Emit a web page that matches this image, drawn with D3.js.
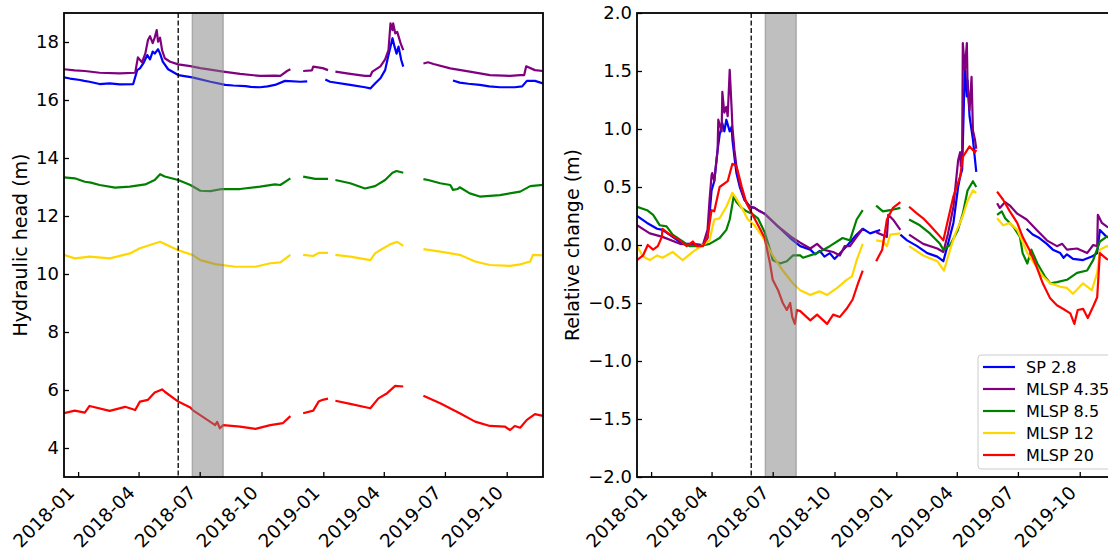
<!DOCTYPE html>
<html><head><meta charset="utf-8">
<script src="https://cdn.jsdelivr.net/npm/d3@7"></script>
<style>
body{margin:0;background:#fff}
svg{display:block}
</style>
</head><body>
<svg id="chart" width="1108" height="550"></svg>
<script>
// ---------- data ----------
const seriesNames  = ["SP 2.8", "MLSP 4.35", "MLSP 8.5", "MLSP 12", "MLSP 20"];
const seriesColors = ["#0000ff", "#800080", "#008000", "#ffd700", "#ff0000"];
const xTickLabels  = ["2018-01","2018-04","2018-07","2018-10","2019-01","2019-04","2019-07","2019-10"];
const headYTicks   = [4, 6, 8, 10, 12, 14, 16, 18];
const relYTicks    = [-2.0, -1.5, -1.0, -0.5, 0.0, 0.5, 1.0, 1.5, 2.0];
const dateRange    = ["2017-12-11", "2019-11-24"];
const headRange    = [3, 19];
const relRange     = [-2, 2];
const markerDate   = "2018-05-30";
const bandDates    = ["2018-06-20", "2018-08-05"];

// Hydraulic head (m), null = data gap
const headSP28 = [["2017-12-11",16.78],["2017-12-20",16.74],["2018-01-04",16.69],["2018-01-10",16.66],["2018-01-18",16.63],["2018-02-02",16.55],["2018-02-17",16.57],["2018-03-04",16.54],["2018-03-24",16.55],["2018-03-30",17.03],["2018-04-03",17.09],["2018-04-08",17.26],["2018-04-14",17.55],["2018-04-18",17.40],["2018-04-22",17.67],["2018-04-25",17.60],["2018-04-30",17.75],["2018-05-03",17.60],["2018-05-07",17.32],["2018-05-15",17.06],["2018-05-30",16.86],["2018-06-20",16.78],["2018-07-17",16.63],["2018-08-08",16.52],["2018-08-20",16.50],["2018-09-07",16.48],["2018-09-15",16.45],["2018-09-29",16.44],["2018-10-10",16.47],["2018-10-21",16.52],["2018-11-05",16.66],["2018-11-28",16.63],["2018-12-08",16.64],null,
  ["2019-01-04",16.71],["2019-01-11",16.63],["2019-02-10",16.52],["2019-03-04",16.44],["2019-03-12",16.40],["2019-03-19",16.57],["2019-03-27",16.75],["2019-04-03",17.03],["2019-04-08",17.55],["2019-04-11",17.84],["2019-04-14",18.13],["2019-04-17",17.84],["2019-04-20",17.60],["2019-04-23",17.84],["2019-04-27",17.38],["2019-04-30",17.15],null,
  ["2019-07-13",16.67],["2019-07-23",16.60],["2019-08-05",16.56],["2019-08-22",16.52],["2019-09-05",16.47],["2019-09-21",16.44],["2019-10-13",16.44],["2019-10-24",16.47],["2019-10-31",16.66],["2019-11-12",16.66],["2019-11-24",16.57]];
const headMLSP435 = [["2017-12-11",17.06],["2017-12-27",17.02],["2018-01-11",17.00],["2018-02-02",16.94],["2018-03-04",16.92],["2018-03-27",16.94],["2018-03-31",17.47],["2018-04-06",17.30],["2018-04-11",17.60],["2018-04-15",18.07],["2018-04-18",18.20],["2018-04-22",17.96],["2018-04-25",18.15],["2018-04-28",18.41],["2018-04-30",18.01],["2018-05-03",18.15],["2018-05-06",17.72],["2018-05-10",17.44],["2018-05-18",17.32],["2018-05-30",17.23],["2018-06-17",17.17],["2018-07-02",17.10],["2018-08-05",16.98],["2018-08-30",16.90],["2018-09-29",16.83],["2018-10-21",16.84],["2018-10-29",16.83],["2018-11-08",17.00],["2018-11-13",17.06],null,
  ["2018-12-02",17.00],["2018-12-15",17.02],["2018-12-17",17.15],["2018-12-31",17.10],["2019-01-08",17.03],null,
  ["2019-01-19",16.98],["2019-02-10",16.90],["2019-03-04",16.83],["2019-03-12",16.83],["2019-03-15",16.98],["2019-03-27",17.16],["2019-04-03",17.40],["2019-04-08",17.72],["2019-04-11",18.64],["2019-04-14",18.41],["2019-04-15",18.64],["2019-04-18",18.30],["2019-04-21",18.35],["2019-04-26",17.96],["2019-04-30",17.72],null,
  ["2019-05-30",17.26],["2019-06-06",17.30],["2019-06-14",17.24],["2019-07-09",17.09],["2019-08-07",16.98],["2019-09-06",16.86],["2019-10-06",16.83],["2019-10-21",16.86],["2019-10-27",16.86],["2019-10-30",17.16],["2019-11-12",17.03],["2019-11-24",17.00]];
const headMLSP85 = [["2017-12-11",13.33],["2017-12-27",13.30],["2018-01-11",13.18],["2018-01-20",13.15],["2018-02-02",13.07],["2018-02-25",12.98],["2018-03-19",13.01],["2018-04-11",13.09],["2018-04-25",13.24],["2018-05-03",13.44],["2018-05-10",13.36],["2018-05-30",13.24],["2018-06-17",13.07],["2018-07-02",12.87],["2018-07-17",12.86],["2018-08-03",12.93],["2018-08-30",12.93],["2018-09-29",13.01],["2018-10-21",13.09],["2018-10-29",13.07],["2018-11-13",13.30],null,
  ["2018-12-02",13.36],["2018-12-20",13.28],["2019-01-08",13.28],null,
  ["2019-01-19",13.24],["2019-02-10",13.13],["2019-03-04",12.95],["2019-03-19",13.03],["2019-04-03",13.24],["2019-04-14",13.49],["2019-04-20",13.55],["2019-04-30",13.49],null,
  ["2019-05-30",13.27],["2019-06-06",13.24],["2019-06-24",13.13],["2019-07-09",13.07],["2019-07-13",12.90],["2019-07-20",12.93],["2019-07-23",12.99],["2019-08-07",12.78],["2019-08-22",12.67],["2019-09-21",12.72],["2019-10-21",12.84],["2019-11-05",13.03],["2019-11-24",13.07]];
const headMLSP12 = [["2017-12-11",10.66],["2017-12-27",10.54],["2018-01-18",10.60],["2018-02-17",10.54],["2018-03-19",10.71],["2018-04-03",10.89],["2018-05-03",11.11],["2018-05-30",10.82],["2018-06-20",10.66],["2018-07-02",10.48],["2018-07-24",10.34],["2018-08-23",10.25],["2018-09-22",10.25],["2018-10-14",10.37],["2018-10-29",10.40],["2018-11-13",10.66],null,
  ["2018-12-02",10.66],["2018-12-17",10.62],["2018-12-25",10.73],["2019-01-08",10.73],null,
  ["2019-01-19",10.66],["2019-02-10",10.60],["2019-03-12",10.48],["2019-03-19",10.71],["2019-03-27",10.83],["2019-04-11",11.03],["2019-04-21",11.11],["2019-04-30",10.97],null,
  ["2019-05-30",10.86],["2019-06-24",10.77],["2019-07-23",10.66],["2019-08-15",10.43],["2019-09-06",10.31],["2019-10-06",10.28],["2019-10-21",10.33],["2019-11-05",10.43],["2019-11-09",10.66],["2019-11-24",10.64]];
const headMLSP20 = [["2017-12-11",5.20],["2017-12-27",5.29],["2018-01-11",5.22],["2018-01-18",5.45],["2018-02-17",5.28],["2018-03-12",5.42],["2018-03-27",5.31],["2018-04-03",5.60],["2018-04-15",5.66],["2018-04-25",5.91],["2018-05-06",6.02],["2018-05-10",5.94],["2018-05-30",5.60],["2018-06-17",5.40],["2018-06-21",5.30],["2018-07-09",5.02],["2018-07-24",4.79],["2018-07-27",4.90],["2018-07-31",4.68],["2018-08-05",4.79],["2018-08-30",4.74],["2018-09-22",4.66],["2018-10-14",4.79],["2018-11-02",4.86],["2018-11-13",5.10],null,
  ["2018-12-02",5.20],["2018-12-17",5.29],["2018-12-25",5.60],["2018-12-31",5.66],["2019-01-08",5.70],null,
  ["2019-01-19",5.63],["2019-02-10",5.52],["2019-03-12",5.37],["2019-03-24",5.71],["2019-04-06",5.89],["2019-04-18",6.14],["2019-04-30",6.12],null,
  ["2019-05-30",5.80],["2019-06-24",5.54],["2019-07-23",5.20],["2019-08-15",4.91],["2019-09-06",4.76],["2019-09-28",4.74],["2019-10-06",4.62],["2019-10-13",4.76],["2019-10-21",4.70],["2019-10-31",4.97],["2019-11-12",5.17],["2019-11-24",5.11]];

// Relative change (m)
const relSP28 = [["2017-12-11",0.25],["2017-12-26",0.19],["2018-01-10",0.14],["2018-01-18",0.13],["2018-02-02",0.07],["2018-02-17",0.01],["2018-03-04",0.01],["2018-03-19",0.00],["2018-03-26",0.06],["2018-04-01",0.47],["2018-04-05",0.55],["2018-04-10",0.82],["2018-04-13",0.95],["2018-04-17",1.05],["2018-04-20",0.98],["2018-04-23",1.08],["2018-04-28",0.98],["2018-05-01",1.02],["2018-05-02",0.91],["2018-05-05",0.76],["2018-05-08",0.62],["2018-05-13",0.50],["2018-05-20",0.39],["2018-05-28",0.33],["2018-06-04",0.32],["2018-06-12",0.29],["2018-06-19",0.27],["2018-07-07",0.17],["2018-07-27",0.06],["2018-08-11",-0.01],["2018-08-26",-0.04],["2018-09-02",-0.08],["2018-09-09",-0.05],["2018-09-16",-0.10],["2018-09-24",-0.07],["2018-10-01",-0.12],["2018-10-06",-0.09],["2018-10-19",-0.01],["2018-11-03",0.09],["2018-11-12",0.14],["2018-11-23",0.10],["2018-12-08",0.13],null,
  ["2019-01-07",0.09],["2019-01-17",0.04],["2019-02-01",-0.01],["2019-02-16",-0.07],["2019-03-03",-0.10],["2019-03-12",-0.14],["2019-03-18",-0.01],["2019-03-27",0.19],["2019-04-03",0.50],["2019-04-06",0.59],["2019-04-09",0.65],["2019-04-13",1.54],["2019-04-16",1.28],["2019-04-17",1.42],["2019-04-20",1.11],["2019-04-23",0.99],["2019-04-25",0.91],["2019-04-30",0.63],null,
  ["2019-07-14",0.14],["2019-07-23",0.09],["2019-08-02",0.06],["2019-08-13",0.01],["2019-08-22",-0.04],["2019-09-02",-0.07],["2019-09-07",-0.11],["2019-09-12",-0.08],["2019-09-21",-0.12],["2019-10-06",-0.13],["2019-10-19",-0.10],["2019-10-27",-0.07],["2019-10-31",0.13],["2019-11-10",0.07],["2019-11-24",0.05]];
const relMLSP435 = [["2017-12-11",0.17],["2017-12-30",0.10],["2018-01-18",0.07],["2018-02-13",0.01],["2018-03-04",0.00],["2018-03-19",0.00],["2018-03-26",0.13],["2018-03-29",0.39],["2018-04-01",0.60],["2018-04-02",0.62],["2018-04-05",0.55],["2018-04-10",0.82],["2018-04-11",1.08],["2018-04-16",0.98],["2018-04-17",1.32],["2018-04-20",1.14],["2018-04-23",1.19],["2018-04-25",1.11],["2018-04-28",1.51],["2018-05-01",1.16],["2018-05-02",1.02],["2018-05-05",0.82],["2018-05-08",0.68],["2018-05-13",0.52],["2018-05-20",0.39],["2018-05-28",0.33],["2018-06-04",0.32],["2018-06-12",0.29],["2018-06-19",0.27],["2018-07-07",0.17],["2018-07-31",0.06],["2018-08-11",0.02],["2018-08-26",-0.03],["2018-09-05",0.01],["2018-09-14",-0.04],["2018-09-29",-0.06],["2018-10-09",-0.09],["2018-10-16",-0.01],["2018-10-24",-0.01],["2018-11-03",0.07],["2018-11-12",0.14],null,
  ["2018-12-02",0.11],["2018-12-18",0.07],["2018-12-20",0.26],["2018-12-27",0.22],["2019-01-07",0.13],null,
  ["2019-01-20",0.09],["2019-02-10",0.01],["2019-03-03",-0.03],["2019-03-12",-0.06],["2019-03-19",0.10],["2019-03-27",0.33],["2019-04-03",0.73],["2019-04-06",0.80],["2019-04-07",0.68],["2019-04-09",0.82],["2019-04-10",1.74],["2019-04-13",1.51],["2019-04-16",1.74],["2019-04-17",1.39],["2019-04-20",1.16],["2019-04-23",1.45],["2019-04-25",0.99],["2019-04-28",0.91],["2019-04-30",0.83],null,
  ["2019-05-31",0.36],["2019-06-04",0.32],["2019-06-12",0.37],["2019-06-19",0.34],["2019-06-30",0.27],["2019-07-14",0.22],["2019-07-29",0.13],["2019-08-13",0.04],["2019-08-28",-0.01],["2019-09-05",0.01],["2019-09-12",-0.04],["2019-09-27",-0.03],["2019-10-12",-0.07],["2019-10-21",0.00],["2019-10-27",-0.01],["2019-10-28",0.26],["2019-11-03",0.19],["2019-11-10",0.16],["2019-11-24",0.12]];
const relMLSP85 = [["2017-12-11",0.33],["2017-12-26",0.30],["2018-01-04",0.26],["2018-01-14",0.17],["2018-01-24",0.16],["2018-02-02",0.09],["2018-02-17",0.03],["2018-02-27",-0.01],["2018-03-14",-0.01],["2018-03-29",0.01],["2018-04-13",0.06],["2018-04-23",0.13],["2018-04-28",0.22],["2018-05-04",0.42],["2018-05-08",0.37],["2018-05-16",0.32],["2018-05-23",0.29],["2018-05-31",0.27],["2018-06-09",0.23],["2018-06-19",0.11],["2018-06-27",-0.04],["2018-07-01",-0.13],["2018-07-12",-0.16],["2018-07-22",-0.14],["2018-07-31",-0.09],["2018-08-11",-0.09],["2018-08-15",-0.11],["2018-09-05",-0.07],["2018-09-24",-0.01],["2018-10-13",0.06],["2018-10-24",0.04],["2018-11-03",0.22],["2018-11-12",0.30],null,
  ["2018-12-02",0.34],["2018-12-12",0.29],["2018-12-23",0.30],["2019-01-07",0.32],null,
  ["2019-01-20",0.22],["2019-02-05",0.17],["2019-02-20",0.10],["2019-03-07",0.01],["2019-03-12",-0.04],["2019-03-22",0.00],["2019-04-02",0.12],["2019-04-10",0.27],["2019-04-17",0.47],["2019-04-25",0.55],["2019-04-30",0.50],null,
  ["2019-05-31",0.26],["2019-06-07",0.29],["2019-06-12",0.23],["2019-06-24",0.16],["2019-07-04",0.07],["2019-07-08",-0.07],["2019-07-15",-0.16],["2019-07-21",-0.04],["2019-07-30",-0.16],["2019-08-10",-0.27],["2019-08-18",-0.33],["2019-08-28",-0.32],["2019-09-12",-0.30],["2019-09-27",-0.24],["2019-10-12",-0.22],["2019-10-21",-0.13],["2019-10-31",0.03],["2019-11-10",0.07],["2019-11-24",0.09]];
const relMLSP12 = [["2017-12-11",-0.01],["2017-12-20",-0.10],["2017-12-30",-0.13],["2018-01-10",-0.09],["2018-01-18",-0.11],["2018-02-02",-0.06],["2018-02-17",-0.13],["2018-03-04",-0.06],["2018-03-19",0.00],["2018-03-29",0.04],["2018-04-05",0.22],["2018-04-13",0.23],["2018-04-23",0.33],["2018-05-02",0.45],["2018-05-08",0.40],["2018-05-16",0.32],["2018-05-25",0.22],["2018-06-04",0.17],["2018-06-16",0.07],["2018-07-01",-0.09],["2018-07-16",-0.22],["2018-07-31",-0.33],["2018-08-11",-0.39],["2018-08-26",-0.43],["2018-09-09",-0.40],["2018-09-20",-0.43],["2018-10-05",-0.37],["2018-10-19",-0.30],["2018-10-27",-0.27],["2018-11-03",-0.13],["2018-11-12",0.01],null,
  ["2018-12-02",0.04],["2018-12-12",0.03],["2018-12-18",-0.01],["2018-12-23",0.09],["2019-01-07",0.10],null,
  ["2019-01-20",-0.01],["2019-02-10",-0.09],["2019-03-03",-0.14],["2019-03-13",-0.22],["2019-03-22",-0.04],["2019-03-30",0.10],["2019-04-10",0.25],["2019-04-17",0.38],["2019-04-25",0.47],["2019-04-30",0.45],null,
  ["2019-05-31",0.23],["2019-06-09",0.17],["2019-06-19",0.19],["2019-06-30",0.13],["2019-07-07",0.04],["2019-07-15",-0.07],["2019-07-29",-0.19],["2019-08-07",-0.27],["2019-08-18",-0.33],["2019-09-02",-0.36],["2019-09-12",-0.37],["2019-09-21",-0.42],["2019-10-06",-0.33],["2019-10-19",-0.39],["2019-10-27",-0.24],["2019-10-31",-0.04],["2019-11-10",-0.01],["2019-11-24",-0.02]];
const relMLSP20 = [["2017-12-11",-0.13],["2017-12-20",-0.09],["2017-12-27",0.00],["2018-01-04",-0.04],["2018-01-11",-0.01],["2018-01-17",0.07],["2018-01-18",0.14],["2018-01-29",0.09],["2018-02-13",0.04],["2018-02-23",-0.01],["2018-03-04",0.03],["2018-03-10",-0.01],["2018-03-19",-0.01],["2018-03-26",0.07],["2018-04-01",0.30],["2018-04-05",0.29],["2018-04-13",0.50],["2018-04-25",0.55],["2018-05-02",0.70],["2018-05-08",0.68],["2018-05-16",0.50],["2018-05-23",0.36],["2018-06-01",0.26],["2018-06-12",0.14],["2018-06-19",0.06],["2018-06-27",-0.16],["2018-07-01",-0.30],["2018-07-09",-0.39],["2018-07-16",-0.50],["2018-07-22",-0.56],["2018-07-27",-0.50],["2018-07-30",-0.62],["2018-08-03",-0.68],["2018-08-06",-0.56],["2018-08-11",-0.57],["2018-08-26",-0.65],["2018-09-05",-0.60],["2018-09-20",-0.68],["2018-09-29",-0.60],["2018-10-09",-0.62],["2018-10-19",-0.55],["2018-10-28",-0.47],["2018-11-05",-0.33],["2018-11-12",-0.22],null,
  ["2018-12-02",-0.14],["2018-12-11",-0.04],["2018-12-18",0.22],["2018-12-27",0.32],["2019-01-07",0.37],null,
  ["2019-01-20",0.33],["2019-02-01",0.27],["2019-02-10",0.23],["2019-02-20",0.17],["2019-03-03",0.10],["2019-03-12",0.04],["2019-03-19",0.22],["2019-03-27",0.42],["2019-04-06",0.59],["2019-04-10",0.76],["2019-04-20",0.85],["2019-04-28",0.80],["2019-04-30",0.82],null,
  ["2019-05-31",0.46],["2019-06-09",0.39],["2019-06-19",0.29],["2019-06-30",0.19],["2019-07-08",0.07],["2019-07-18",-0.04],["2019-07-29",-0.19],["2019-08-07",-0.33],["2019-08-18",-0.46],["2019-08-28",-0.52],["2019-09-06",-0.55],["2019-09-17",-0.59],["2019-09-23",-0.68],["2019-09-28",-0.56],["2019-10-06",-0.55],["2019-10-13",-0.63],["2019-10-21",-0.53],["2019-10-27",-0.45],["2019-10-31",-0.07],["2019-11-10",-0.12],["2019-11-24",-0.15]];

const headSeries = [headSP28, headMLSP435, headMLSP85, headMLSP12, headMLSP20];
const relSeries  = [relSP28, relMLSP435, relMLSP85, relMLSP12, relMLSP20];

// ---------- drawing ----------
const parse = d3.timeParse("%Y-%m-%d");
const parseMonth = d3.timeParse("%Y-%m");
const FONT = "'DejaVu Sans', sans-serif";
const svg = d3.select("#chart");
const plotTop = 13, plotBottom = 477;

function panel(opts) {
  const x = d3.scaleTime().domain(dateRange.map(parse)).range([opts.left, opts.right]);
  const y = d3.scaleLinear().domain(opts.yDomain).range([plotBottom, plotTop]);
  const g = svg.append("g");
  const clipId = "clip" + opts.id;
  svg.append("clipPath").attr("id", clipId).append("rect")
    .attr("x", opts.left).attr("y", plotTop).attr("width", opts.right - opts.left).attr("height", plotBottom - plotTop);

  const line = d3.line().defined(d => d !== null)
    .x(d => x(parse(d[0]))).y(d => y(d[1]));
  const lines = g.append("g").attr("clip-path", `url(#${clipId})`);
  opts.series.forEach((s, i) => {
    lines.append("path").datum(s).attr("d", line)
      .attr("fill", "none").attr("stroke", seriesColors[i])
      .attr("stroke-width", 2.2).attr("stroke-linejoin", "round");
  });

  // shaded period
  g.append("rect")
    .attr("x", x(parse(bandDates[0]))).attr("y", plotTop)
    .attr("width", x(parse(bandDates[1])) - x(parse(bandDates[0])))
    .attr("height", plotBottom - plotTop)
    .attr("fill", "#808080").attr("fill-opacity", 0.5)
    .attr("stroke", "#808080").attr("stroke-opacity", 0.5).attr("stroke-width", 1.5);

  // dashed marker
  g.append("line")
    .attr("x1", x(parse(markerDate))).attr("x2", x(parse(markerDate)))
    .attr("y1", plotTop).attr("y2", plotBottom)
    .attr("stroke", "#000").attr("stroke-width", 1.3).attr("stroke-dasharray", "5,2.5");

  // axes
  const xa = g.append("g").attr("transform", `translate(0,${plotBottom})`)
    .call(d3.axisBottom(x).tickValues(xTickLabels.map(parseMonth))
      .tickFormat(d3.timeFormat("%Y-%m")).tickSizeInner(-5).tickSizeOuter(0));
  xa.select(".domain").remove();
  xa.attr("font-family", FONT).attr("font-size", 18.5);
  xa.selectAll(".tick line").attr("stroke-width", 1.3);
  xa.selectAll(".tick text").attr("y", 0).attr("dy", null)
    .attr("text-anchor", "end").attr("fill", "#000")
    .attr("transform", "translate(-3,17) rotate(-45)");

  const ya = g.append("g").attr("transform", `translate(${opts.left},0)`)
    .call(d3.axisLeft(y).tickValues(opts.yTicks).tickFormat(opts.fmt)
      .tickSizeInner(-5).tickSizeOuter(0).tickPadding(5));
  ya.select(".domain").remove();
  ya.attr("font-family", FONT).attr("font-size", 18);
  ya.selectAll(".tick line").attr("stroke-width", 1.3);
  ya.selectAll(".tick text").attr("fill", "#000");

  // frame
  g.append("rect").attr("x", opts.left).attr("y", plotTop)
    .attr("width", opts.right - opts.left).attr("height", plotBottom - plotTop)
    .attr("fill", "none").attr("stroke", "#000").attr("stroke-width", 1.8);

  // y label
  g.append("text").attr("transform", `translate(${opts.labelX},${(plotTop + plotBottom) / 2}) rotate(-90)`)
    .attr("text-anchor", "middle").attr("font-family", FONT).attr("font-size", 19)
    .attr("fill", "#000").text(opts.label);
  return g;
}

panel({id: "L", left: 64, right: 543, yDomain: headRange, yTicks: headYTicks,
  fmt: d3.format("d"), series: headSeries, label: "Hydraulic head (m)", labelX: 27});
panel({id: "R", left: 637, right: 1116, yDomain: relRange, yTicks: relYTicks,
  fmt: d3.format(".1f"), series: relSeries, label: "Relative change (m)", labelX: 579});

// legend
const lg = svg.append("g").attr("transform", "translate(978,355)");
lg.append("rect").attr("x", 0).attr("y", 0).attr("width", 150).attr("height", 114).attr("rx", 3)
  .attr("fill", "#fff").attr("fill-opacity", 0.8).attr("stroke", "#cccccc").attr("stroke-width", 1);
seriesNames.forEach((n, i) => {
  const yy = 12 + i * 22;
  lg.append("line").attr("x1", 5).attr("x2", 37).attr("y1", yy).attr("y2", yy)
    .attr("stroke", seriesColors[i]).attr("stroke-width", 2.2);
  lg.append("text").attr("x", 48).attr("y", yy).attr("dy", "0.35em")
    .attr("font-family", FONT).attr("font-size", 16).attr("fill", "#000").text(n);
});
</script>
</body></html>
